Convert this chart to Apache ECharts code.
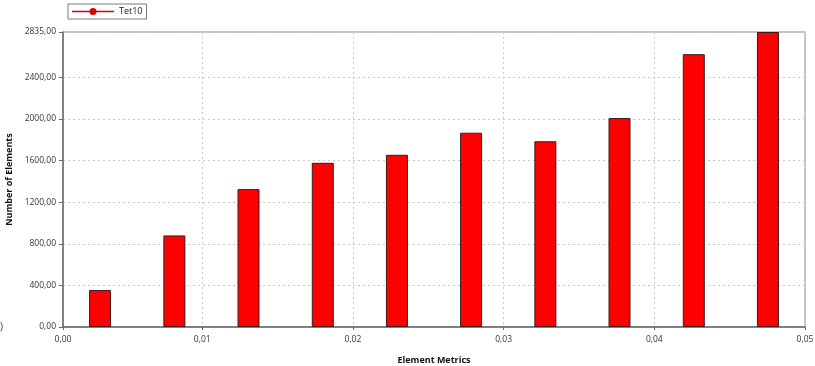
<!DOCTYPE html>
<html>
<head>
<meta charset="utf-8">
<style>
  html, body { margin: 0; padding: 0; background: #fff; }
  #chart { width: 815px; height: 366px; }
</style>
<script src="https://cdn.jsdelivr.net/npm/echarts@6/dist/echarts.min.js"></script>
</head>
<body>
<div id="chart"></div>
<script>
// Histogram range: ten equal bins between the smallest metric and 0.05
const metricMin = 0.00076;
const metricMax = 0.05;
// Bin centres along the element metric axis
const binCenters = [0.00322, 0.00815, 0.01307, 0.01800, 0.02292, 0.02784, 0.03277, 0.03769, 0.04262, 0.04754];
// Element counts per bin
const tet10Counts = [355, 880, 1325, 1578, 1655, 1867, 1785, 2008, 2622, 2835];
// Axis ticks
const yTicks = [0, 400, 800, 1200, 1600, 2000, 2400, 2835];
const xTicks = [metricMin, 0.01, 0.02, 0.03, 0.04, 0.05];

const seriesName = 'Tet10';
const fmt = (v, d) => v.toFixed(d).replace('.', ',');

const chart = echarts.init(document.getElementById('chart'), null, { renderer: 'canvas' });
const fontFam = '"Open Sans", "Noto Sans", sans-serif';

chart.setOption({
  animation: false,
  backgroundColor: '#ffffff',
  grid: {
    left: 63, right: 10, top: 32, bottom: 39,
    outerBoundsMode: 'none', containLabel: false,
    show: true, borderColor: '#8a8a8a', borderWidth: 1
  },
  legend: {
    left: 68, top: 4,
    padding: [3, 4, 3, 4],
    borderColor: '#7a7a7a', borderWidth: 1,
    itemWidth: 42, itemHeight: 8, itemGap: 4,
    icon: 'path://M0,4.2 L42,4.2 L42,5.8 L0,5.8 Z M21,1.5 A3.5,3.5 0 1 1 21,8.5 A3.5,3.5 0 1 1 21,1.5 Z',
    itemStyle: { color: '#e00000', borderWidth: 0 },
    textStyle: { fontFamily: fontFam, fontSize: 9, color: '#222' },
    data: [seriesName]
  },
  xAxis: {
    type: 'value', min: metricMin, max: metricMax,
    name: 'Element Metrics', nameLocation: 'middle', nameGap: 29,
    nameTextStyle: { fontFamily: fontFam, fontSize: 9, fontWeight: 'bold', color: '#111' },
    axisLine: { show: true, onZero: false, lineStyle: { color: '#6a6a6a', width: 1.5 } },
    axisTick: { show: true, length: 3, customValues: xTicks, lineStyle: { color: '#6a6a6a' } },
    axisLabel: { customValues: xTicks, fontFamily: fontFam, fontSize: 8.5, color: '#333', margin: 8,
      showMinLabel: true, showMaxLabel: true, formatter: v => fmt(v, 2) },
    splitLine: { show: true, lineStyle: { color: '#c8c8c8', type: [2, 3], width: 1 } }
  },
  yAxis: {
    type: 'value', min: 0, max: 2835,
    name: 'Number of Elements', nameLocation: 'middle', nameGap: 45,
    nameTextStyle: { fontFamily: fontFam, fontSize: 9, fontWeight: 'bold', color: '#111' },
    axisLine: { show: true, onZero: false, lineStyle: { color: '#6a6a6a', width: 1.5 } },
    axisTick: { show: true, length: 4, customValues: yTicks, lineStyle: { color: '#6a6a6a' } },
    axisLabel: { customValues: yTicks, fontFamily: fontFam, fontSize: 8.5, color: '#333', margin: 7,
      formatter: v => fmt(v, 2) },
    splitLine: { show: true, lineStyle: { color: '#c8c8c8', type: [2, 3], width: 1 } }
  },
  series: [{
    name: seriesName,
    type: 'bar',
    barWidth: 22,
    itemStyle: { color: '#ff0000', borderColor: '#3a1a1a', borderWidth: 1 },
    data: binCenters.map((x, i) => [x, tet10Counts[i]])
  }],
  graphic: [{
    type: 'text', left: 0, top: 322,
    style: { text: ')', font: '10px ' + fontFam, fill: '#333' }
  }]
});
</script>
</body>
</html>
